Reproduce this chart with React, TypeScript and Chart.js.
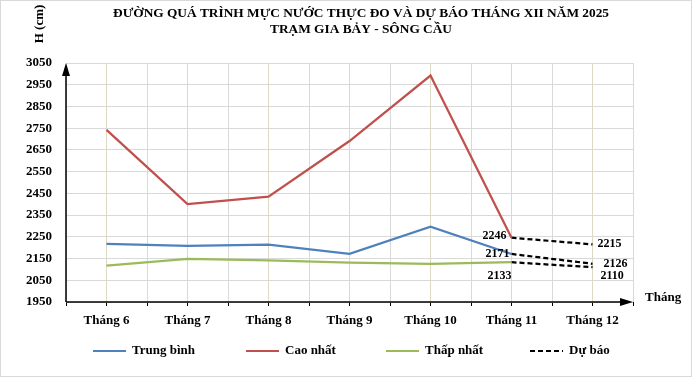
import React, { useEffect, useRef } from 'react';
import { Chart, registerables } from 'chart.js';

Chart.register(...registerables);

// ---- Data ----
const categories = ['Tháng 6', 'Tháng 7', 'Tháng 8', 'Tháng 9', 'Tháng 10', 'Tháng 11', 'Tháng 12'];
const avgValues = [2217, 2208, 2214, 2172, 2297, 2171];
const maxValues = [2742, 2401, 2435, 2691, 2992, 2246];
const minValues = [2117, 2148, 2142, 2131, 2126, 2133];
const forecastStart = 5;
const forecastMax = [2246, 2215];
const forecastAvg = [2171, 2126];
const forecastMin = [2133, 2110];
const yMin = 1950;
const yMax = 3050;
const yStep = 100;
const titleLines = [
  'ĐƯỜNG QUÁ TRÌNH MỰC NƯỚC THỰC ĐO VÀ DỰ BÁO THÁNG XII NĂM 2025',
  'TRẠM GIA BẢY - SÔNG CẦU',
];
const yAxisTitle = 'H (cm)';
const xAxisTitle = 'Tháng';
const legendLabels = ['Trung bình', 'Cao nhất', 'Thấp nhất', 'Dự báo'];

const FONT = "'Liberation Serif', 'Times New Roman', serif";
const COLORS = { avg: '#4F81BD', max: '#C0504D', min: '#9BBB59', fc: '#000000' };

const toPoints = (vals: number[], start: number) => vals.map((v, i) => ({ x: start + i, y: v }));

const annotationPlugin = {
  id: 'decor',
  beforeDraw(chart: any) {
    const { ctx, width, height } = chart;
    ctx.save();
    ctx.fillStyle = '#ffffff';
    ctx.fillRect(0, 0, width, height);
    ctx.restore();
  },
  afterDraw(chart: any) {
    const { ctx, width, height, chartArea } = chart;
    const { left, right, top, bottom } = chartArea;
    const xs = chart.scales.x;
    const ys = chart.scales.y;
    ctx.save();

    // outer border
    ctx.strokeStyle = '#d9d9d9';
    ctx.lineWidth = 1;
    ctx.strokeRect(0.5, 0.5, width - 1, height - 1);

    // axes
    ctx.strokeStyle = '#000';
    ctx.fillStyle = '#000';
    ctx.lineWidth = 1.5;
    ctx.beginPath();
    ctx.moveTo(left, bottom);
    ctx.lineTo(right - 6, bottom);
    ctx.moveTo(left, bottom);
    ctx.lineTo(left, top + 6);
    ctx.stroke();
    ctx.beginPath();
    ctx.moveTo(right, bottom);
    ctx.lineTo(right - 13, bottom - 4);
    ctx.lineTo(right - 13, bottom + 4);
    ctx.closePath();
    ctx.fill();
    ctx.beginPath();
    ctx.moveTo(left, top);
    ctx.lineTo(left - 4, top + 13);
    ctx.lineTo(left + 4, top + 13);
    ctx.closePath();
    ctx.fill();

    // title (scaled to reference width)
    ctx.textBaseline = 'middle';
    ctx.textAlign = 'center';
    ctx.font = `bold 12px ${FONT}`;
    const titleY = [14, 30];
    const titleW = [496, 182];
    titleLines.forEach((t, i) => {
      const w = ctx.measureText(t).width;
      const s = titleW[i] / w;
      ctx.save();
      ctx.translate(361, titleY[i]);
      ctx.scale(s, 1);
      ctx.fillText(t, 0, 0);
      ctx.restore();
    });

    // y axis title
    ctx.save();
    ctx.font = `bold 13px ${FONT}`;
    ctx.translate(40, 24);
    ctx.rotate(-Math.PI / 2);
    ctx.textAlign = 'center';
    ctx.fillText(yAxisTitle, 0, 0);
    ctx.restore();

    // x axis title
    ctx.font = `bold 13px ${FONT}`;
    ctx.textAlign = 'left';
    ctx.fillText(xAxisTitle, 645, 298);

    // forecast value labels
    ctx.font = `bold 12px ${FONT}`;
    const i0 = forecastStart;
    const i1 = forecastStart + 1;
    const lbls: [number, number, number, number, CanvasTextAlign][] = [
      [i0, forecastMax[0], -5, -2, 'right'],
      [i0, forecastAvg[0], -2, 0, 'right'],
      [i0, forecastMin[0], -12, 14, 'center'],
      [i1, forecastMax[1], 5, -1, 'left'],
      [i1, forecastAvg[1], 11, 0, 'left'],
      [i1, forecastMin[1], 8, 9, 'left'],
    ];
    lbls.forEach(([xi, v, dx, dy, al]) => {
      ctx.textAlign = al;
      ctx.fillText(String(v), xs.getPixelForValue(xi) + dx, ys.getPixelForValue(v) + dy);
    });

    // legend
    const legendX = [93, 246, 386, 530];
    const legendColors = [COLORS.avg, COLORS.max, COLORS.min, COLORS.fc];
    const ly = 351;
    ctx.font = `bold 13px ${FONT}`;
    ctx.textAlign = 'left';
    legendLabels.forEach((t, i) => {
      ctx.strokeStyle = legendColors[i];
      ctx.lineWidth = 2;
      ctx.setLineDash(i === 3 ? [5, 3] : []);
      ctx.beginPath();
      ctx.moveTo(legendX[i], ly);
      ctx.lineTo(legendX[i] + 33, ly);
      ctx.stroke();
      ctx.setLineDash([]);
      ctx.fillText(t, legendX[i] + 39, ly);
    });
    ctx.restore();
  },
};

export default function App() {
  const canvasRef = useRef<HTMLCanvasElement | null>(null);

  useEffect(() => {
    document.body.style.margin = '0';
    const canvas = canvasRef.current;
    if (!canvas) return;
    const lineDs = (label: string, data: any[], color: string, dash: number[] = []) => ({
      label,
      data,
      borderColor: color,
      backgroundColor: color,
      borderWidth: 2.25,
      borderDash: dash,
      pointRadius: 0,
      tension: 0,
      fill: false,
    });
    const chart = new Chart(canvas, {
      type: 'line',
      data: {
        datasets: [
          lineDs('Trung bình', toPoints(avgValues, 0), COLORS.avg),
          lineDs('Cao nhất', toPoints(maxValues, 0), COLORS.max),
          lineDs('Thấp nhất', toPoints(minValues, 0), COLORS.min),
          lineDs('Dự báo', toPoints(forecastMax, forecastStart), COLORS.fc, [5, 3]),
          lineDs('Dự báo 2', toPoints(forecastAvg, forecastStart), COLORS.fc, [5, 3]),
          lineDs('Dự báo 3', toPoints(forecastMin, forecastStart), COLORS.fc, [5, 3]),
        ],
      },
      options: {
        animation: false,
        responsive: false,
        devicePixelRatio: 1,
        layout: { padding: { top: 63, right: 59, bottom: 0, left: 0 } },
        plugins: { legend: { display: false }, title: { display: false }, tooltip: { enabled: false } },
        scales: {
          x: {
            type: 'linear',
            min: -0.5,
            max: categories.length - 0.5,
            afterFit: (s: any) => { s.height = 75; },
            border: { display: false },
            grid: {
              color: (c: any) => (Number.isInteger(c.tick?.value) ? '#ddd9c3' : '#d9d9d9'),
              tickColor: '#000',
              tickLength: 4,
              lineWidth: 1,
            },
            ticks: {
              stepSize: 0.5,
              autoSkip: false,
              maxRotation: 0,
              padding: 7,
              color: '#000',
              font: { family: FONT, size: 13, weight: 'bold' },
              callback: (v: any) => (Number.isInteger(v) ? categories[v] : ''),
            },
          },
          y: {
            min: yMin,
            max: yMax,
            afterFit: (s: any) => { s.width = 66; },
            border: { display: false },
            grid: { color: '#d9d9d9', drawTicks: false, lineWidth: 1 },
            ticks: {
              stepSize: yStep,
              padding: 14,
              color: '#000',
              font: { family: FONT, size: 13, weight: 'bold' },
              callback: (v: any) => String(v),
            },
          },
        },
      },
      plugins: [annotationPlugin],
    } as any);
    return () => chart.destroy();
  }, []);

  return <canvas ref={canvasRef} width={692} height={377} style={{ display: 'block' }} />;
}
